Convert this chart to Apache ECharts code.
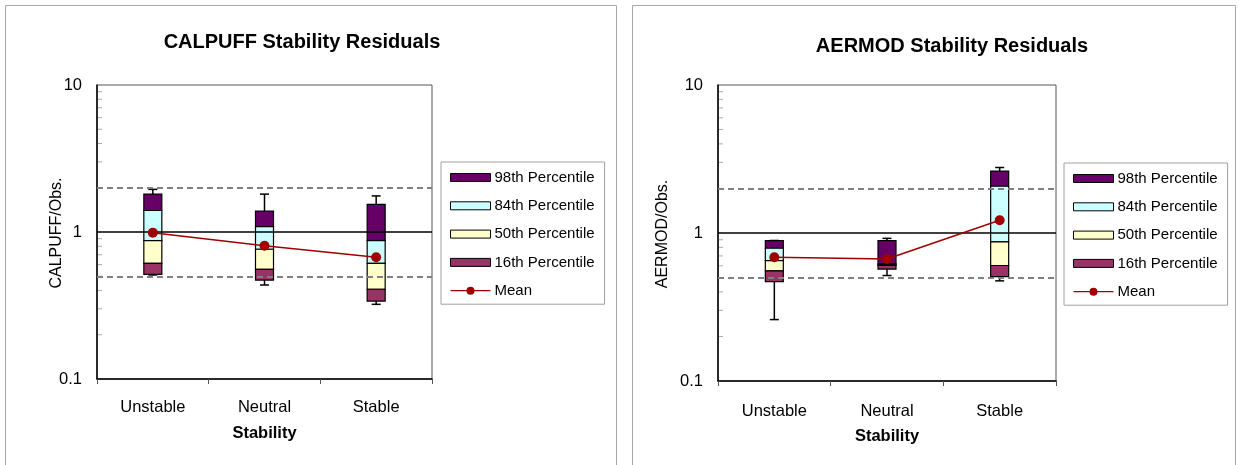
<!DOCTYPE html>
<html>
<head>
<meta charset="utf-8">
<script src="https://cdn.jsdelivr.net/npm/echarts@6/dist/echarts.min.js"></script>
<style>
  html, body { margin: 0; padding: 0; background: #fff; }
  #chart { width: 1239px; height: 465px; }
</style>
</head>
<body>
<div id="chart"></div>
<script>
// Stability classes on the x axis
const categories = ['Unstable', 'Neutral', 'Stable'];

// CALPUFF / observed ratios
const calpuffLow  = [0.51, 0.436, 0.322];   // lower whisker
const calpuffP02  = [0.515, 0.471, 0.339];  // bottom of box
const calpuffP16  = [0.612, 0.557, 0.408];
const calpuffP50  = [0.873, 0.763, 0.612];
const calpuffP84  = [1.40, 1.087, 0.873];
const calpuffP98  = [1.81, 1.39, 1.54];
const calpuffHigh = [1.95, 1.81, 1.76];     // upper whisker
const calpuffMean = [0.99, 0.807, 0.673];

// AERMOD / observed ratios
const aermodLow  = [0.26, 0.516, 0.475];
const aermodP02  = [0.47, 0.57, 0.508];
const aermodP16  = [0.555, 0.604, 0.603];
const aermodP50  = [0.65, 0.612, 0.87];
const aermodP84  = [0.789, 0.62, 2.07];
const aermodP98  = [0.887, 0.887, 2.62];
const aermodHigh = [0.89, 0.92, 2.77];
const aermodMean = [0.686, 0.668, 1.22];

// Reference ratios: factor-of-two band around 1
const referenceLines = [1, 2, 0.5];
// Log-axis minor tick positions
const minorTickValues = [0.2, 0.3, 0.4, 0.5, 0.6, 0.7, 0.8, 0.9, 2, 3, 4, 5, 6, 7, 8, 9];
const yTicks = [0.1, 1, 10];

const FONT = 'Liberation Sans, Arial, sans-serif';
const bandNames = ['98th Percentile', '84th Percentile', '50th Percentile', '16th Percentile'];
const bandColors = ['#660066', '#CCFFFF', '#FFFFCC', '#993366'];
const meanColor = '#A00000';
// legend glyph for the mean: a line with a dot in the middle
const meanIcon = 'path://M0,3.4L40,3.4L40,4.6L0,4.6Z M24,4A4,4 0 1,1 16,4A4,4 0 1,1 24,4Z';

function boxRender(width) {
  return function (params, api) {
    const x = api.value(0);
    const lo = api.coord([x, api.value(1)]);
    const hi = api.coord([x, api.value(2)]);
    return {
      type: 'rect',
      shape: { x: lo[0] - width / 2, y: hi[1], width: width, height: lo[1] - hi[1] },
      style: { fill: api.visual('color'), stroke: '#000', lineWidth: 1.2 }
    };
  };
}

function whiskerRender(params, api) {
  const x = api.value(0);
  const pLow = api.coord([x, api.value(1)]);
  const pBoxLo = api.coord([x, api.value(2)]);
  const pBoxHi = api.coord([x, api.value(3)]);
  const pHigh = api.coord([x, api.value(4)]);
  const cap = 4.5;
  const st = { stroke: '#000', lineWidth: 1.5 };
  return {
    type: 'group',
    children: [
      { type: 'line', shape: { x1: pHigh[0], y1: pHigh[1], x2: pBoxHi[0], y2: pBoxHi[1] }, style: st },
      { type: 'line', shape: { x1: pHigh[0] - cap, y1: pHigh[1], x2: pHigh[0] + cap, y2: pHigh[1] }, style: st },
      { type: 'line', shape: { x1: pLow[0], y1: pLow[1], x2: pBoxLo[0], y2: pBoxLo[1] }, style: st },
      { type: 'line', shape: { x1: pLow[0] - cap, y1: pLow[1], x2: pLow[0] + cap, y2: pLow[1] }, style: st }
    ]
  };
}

function minorTickRender(params, api) {
  const p = api.coord([0, api.value(1)]);
  const x0 = params.coordSys.x;
  return {
    type: 'line',
    shape: { x1: x0 + 1, y1: p[1], x2: x0 + 5, y2: p[1] },
    style: { stroke: '#aaaaaa', lineWidth: 1 }
  };
}

function buildSeries(idx, low, p02, p16, p50, p84, p98, high, mean) {
  const bounds = [[p84, p98], [p50, p84], [p16, p50], [p02, p16]];
  const list = [];
  // reference lines and minor ticks, behind the boxes
  list.push({
    type: 'custom', name: 'ticks' + idx, xAxisIndex: idx, yAxisIndex: idx, z: 1,
    renderItem: minorTickRender,
    encode: { x: 0, y: 1 },
    data: minorTickValues.map(v => [0, v]),
    silent: true,
    markLine: {
      silent: true, symbol: ['none', 'none'], label: { show: false },
      data: referenceLines.map(v => ({
        yAxis: v,
        lineStyle: v === 1
          ? { type: 'solid', color: '#000', width: 1.5 }
          : { type: [6, 4], color: '#808080', width: 2 }
      }))
    }
  });
  list.push({
    type: 'custom', name: 'whisker' + idx, xAxisIndex: idx, yAxisIndex: idx, z: 2,
    renderItem: whiskerRender,
    encode: { x: 0, y: [1, 2, 3, 4] },
    data: categories.map((c, i) => [i, low[i], p02[i], p98[i], high[i]])
  });
  bounds.forEach((b, k) => {
    list.push({
      type: 'custom', name: bandNames[k], xAxisIndex: idx, yAxisIndex: idx, z: 3,
      renderItem: boxRender(18),
      itemStyle: { color: bandColors[k], borderColor: '#000', borderWidth: 1 },
      encode: { x: 0, y: [1, 2] },
      data: categories.map((c, i) => [i, b[0][i], b[1][i]])
    });
  });
  list.push({
    type: 'line', name: 'Mean', xAxisIndex: idx, yAxisIndex: idx, z: 5,
    data: mean,
    symbol: 'circle', symbolSize: 10,
    lineStyle: { color: meanColor, width: 1.5 },
    itemStyle: { color: meanColor }
  });
  return list;
}

function legendFor(left, top) {
  return {
    orient: 'vertical', left: left, top: top,
    padding: [8, 10, 6, 9],
    itemGap: 13.3, itemWidth: 40, itemHeight: 8,
    borderColor: '#a0a0a0', borderWidth: 1,
    selectedMode: false,
    textStyle: { fontFamily: FONT, fontSize: 15, color: '#000', padding: [0, 0, 0, -1] },
    data: bandNames.map((n, k) => ({
      name: n, icon: 'rect',
      itemStyle: { color: bandColors[k], borderColor: '#000', borderWidth: 1 }
    })).concat([{ name: 'Mean', icon: meanIcon, itemStyle: { color: meanColor, borderWidth: 0 } }])
  };
}

function xAxisFor(idx) {
  return {
    type: 'category', gridIndex: idx, data: categories,
    name: 'Stability', nameLocation: 'middle', nameGap: idx === 0 ? 46 : 47,
    nameTextStyle: { fontFamily: FONT, fontSize: 16.5, fontWeight: 'bold', color: '#000' },
    axisLine: { lineStyle: { color: '#000', width: 1.5 } },
    axisTick: { show: true, length: 5, lineStyle: { color: '#555' } },
    axisLabel: { fontFamily: FONT, fontSize: 16.5, color: '#000', margin: idx === 0 ? 20 : 22 },
    splitLine: { show: false }
  };
}

function yAxisFor(idx) {
  return {
    type: 'log', logBase: 10, gridIndex: idx, min: yTicks[0], max: yTicks[yTicks.length - 1],
    axisLine: { show: true, lineStyle: { color: '#000', width: 1.5 } },
    axisTick: { show: false },
    axisLabel: { fontFamily: FONT, fontSize: 16.5, color: '#000', margin: 15,
      formatter: v => String(v) },
    splitLine: { show: false }
  };
}

// rotated y-axis titles, placed next to the tick labels
function yTitle(text, x, y) {
  return {
    type: 'text', x: x, y: y, rotation: Math.PI / 2,
    style: { text: text, fontFamily: FONT, fontSize: 16, fill: '#000',
      align: 'center', verticalAlign: 'middle' }
  };
}

const chart = echarts.init(document.getElementById('chart'), null, { renderer: 'canvas' });
chart.setOption({
  animation: false,
  backgroundColor: '#fff',
  title: [
    { text: 'CALPUFF Stability Residuals', left: 297, top: 27, textAlign: 'center',
      textStyle: { fontFamily: FONT, fontSize: 20, fontWeight: 'bold', color: '#000' } },
    { text: 'AERMOD Stability Residuals', left: 947, top: 31, textAlign: 'center',
      textStyle: { fontFamily: FONT, fontSize: 20, fontWeight: 'bold', color: '#000' } }
  ],
  graphic: [
    { type: 'rect', shape: { x: 5.5, y: 5.5, width: 611, height: 520 },
      style: { fill: 'none', stroke: '#a8a8a8', lineWidth: 1 }, z: -1 },
    { type: 'rect', shape: { x: 632.5, y: 5.5, width: 603, height: 520 },
      style: { fill: 'none', stroke: '#a8a8a8', lineWidth: 1 }, z: -1 },
    yTitle('CALPUFF/Obs.', 57, 233),
    yTitle('AERMOD/Obs.', 663, 234)
  ],
  grid: [
    { left: 97, top: 85, width: 335, height: 294, show: true, borderColor: '#555', borderWidth: 1 },
    { left: 718, top: 85, width: 338, height: 296, show: true, borderColor: '#555', borderWidth: 1 }
  ],
  legend: [legendFor(441, 162), legendFor(1064, 163)],
  xAxis: [xAxisFor(0), xAxisFor(1)],
  yAxis: [yAxisFor(0), yAxisFor(1)],
  series: buildSeries(0, calpuffLow, calpuffP02, calpuffP16, calpuffP50, calpuffP84, calpuffP98, calpuffHigh, calpuffMean)
    .concat(buildSeries(1, aermodLow, aermodP02, aermodP16, aermodP50, aermodP84, aermodP98, aermodHigh, aermodMean))
});
</script>
</body>
</html>
